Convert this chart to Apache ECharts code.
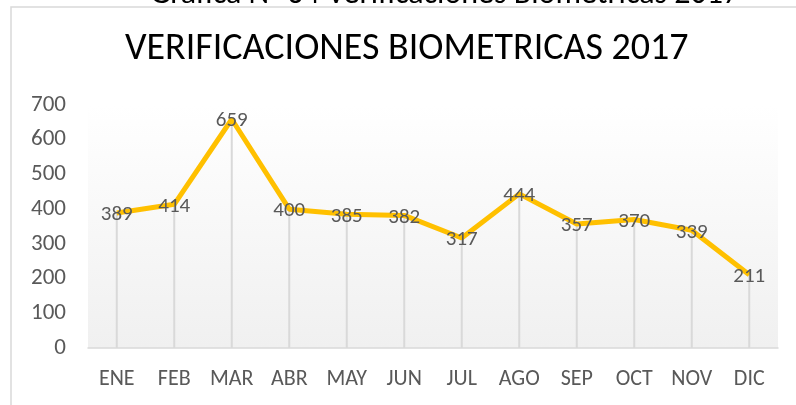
<!DOCTYPE html>
<html>
<head>
<meta charset="utf-8">
<script src="https://cdn.jsdelivr.net/npm/echarts@6/dist/echarts.min.js"></script>
<style>html,body{margin:0;padding:0;background:#fff;}#c{width:796px;height:405px;}</style>
</head>
<body>
<div id="c"></div>
<script>
const categories = ['ENE','FEB','MAR','ABR','MAY','JUN','JUL','AGO','SEP','OCT','NOV','DIC'];
const values = [389,414,659,400,385,382,317,444,357,370,339,211];
const yTicks = {min:0, max:700, interval:100};
const titleText = 'VERIFICACIONES BIOMETRICAS 2017';
const captionText = 'Gráfica N° 64 Verificaciones Biometricas 2017';

const FONT = "Carlito, 'Open Sans', sans-serif";
const chart = echarts.init(document.getElementById('c'));
chart.setOption({
  animation:false,
  backgroundColor:'#fff',
  title:[
    {text:titleText,left:125,top:30,padding:0,textStyle:{fontFamily:FONT,fontSize:38,fontWeight:'normal',color:'#000'}},
    {text:captionText,left:150,top:-21,padding:0,textStyle:{fontFamily:FONT,fontSize:32,fontWeight:'normal',color:'#000'}}
  ],
  graphic:[
    {type:'rect',shape:{x:11,y:7,width:820,height:420},style:{fill:'none',stroke:'#d9d9d9',lineWidth:1.5},silent:true}
  ],
  grid:{left:88,right:18,top:105,bottom:57,show:true,borderWidth:0,
    backgroundColor:{type:'linear',x:0,y:0,x2:0,y2:1,colorStops:[{offset:0,color:'#ffffff'},{offset:1,color:'#f0f0f0'}]}},
  xAxis:{type:'category',data:categories,boundaryGap:true,
    axisLine:{lineStyle:{color:'#d9d9d9',width:1.5}},axisTick:{show:false},
    axisLabel:{interval:0,color:'#595959',fontFamily:FONT,fontSize:22,margin:20}},
  yAxis:{type:'value',min:yTicks.min,max:yTicks.max,interval:yTicks.interval,
    axisLine:{show:false},axisTick:{show:false},splitLine:{show:false},
    axisLabel:{color:'#595959',fontFamily:FONT,fontSize:23,margin:22}},
  series:[
    {type:'bar',data:values,barWidth:2,itemStyle:{color:'#d9d9d9'},silent:true,z:1},
    {type:'line',data:values,symbol:'circle',symbolSize:1,showSymbol:true,itemStyle:{color:'#FFC000'},lineStyle:{color:'#FFC000',width:5},z:2,
     label:{show:true,position:'top',distance:0,offset:[0,13],color:'#595959',textBorderWidth:0,fontFamily:FONT,fontSize:21}}
  ]
});
</script>
</body>
</html>
